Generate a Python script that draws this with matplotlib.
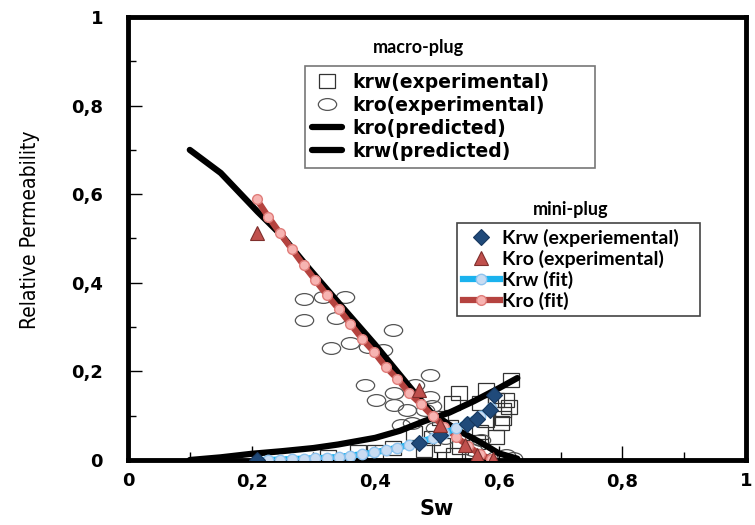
import numpy as np
import matplotlib.pyplot as plt
from matplotlib.markers import MarkerStyle
from matplotlib.transforms import Affine2D
from matplotlib.ticker import MultipleLocator, FuncFormatter

# macro-plug experimental points
krw_exp_sw = [0.324, 0.372, 0.399, 0.428, 0.463, 0.479, 0.492, 0.505, 0.508, 0.521,
              0.524, 0.527, 0.535, 0.537, 0.559, 0.564, 0.569, 0.569, 0.58, 0.58,
              0.596, 0.596, 0.607, 0.607, 0.612, 0.620, 0.617, 0.604]
krw_exp = [0.007, 0.018, 0.018, 0.027, 0.061, 0.023, 0.050, 0.095, 0.034, 0.075,
           0.129, 0.011, 0.151, 0.029, 0.007, 0.041, 0.129, 0.063, 0.158, 0.090,
           0.135, 0.052, 0.113, 0.095, 0.135, 0.181, 0.120, 0.083]
kro_exp_sw = [0.284, 0.316, 0.351, 0.284, 0.337, 0.429, 0.329, 0.359, 0.388, 0.412,
              0.489, 0.383, 0.401, 0.431, 0.431, 0.452, 0.465, 0.441, 0.492, 0.481,
              0.489, 0.460, 0.497, 0.513, 0.572, 0.559, 0.596, 0.612, 0.623]
kro_exp = [0.363, 0.368, 0.368, 0.316, 0.320, 0.293, 0.253, 0.264, 0.255, 0.248,
           0.192, 0.169, 0.135, 0.151, 0.124, 0.113, 0.169, 0.079, 0.122, 0.113,
           0.142, 0.083, 0.072, 0.050, 0.045, 0.023, 0.007, 0.011, 0.005]

# macro-plug predicted curves
kro_pred_sw = [0.10, 0.15, 0.21, 0.25, 0.29, 0.35, 0.40, 0.45, 0.49, 0.53, 0.57, 0.60, 0.63]
kro_pred = [0.70, 0.648, 0.56, 0.505, 0.437, 0.34, 0.26, 0.175, 0.108, 0.07, 0.04, 0.015, 0.003]
krw_pred_sw = [0.10, 0.15, 0.20, 0.25, 0.30, 0.34, 0.40, 0.44, 0.48, 0.52, 0.56, 0.60, 0.63]
krw_pred = [0.0, 0.006, 0.014, 0.020, 0.027, 0.035, 0.050, 0.066, 0.088, 0.107, 0.133, 0.162, 0.185]

# mini-plug experimental
krw_mini_sw = [0.208, 0.471, 0.505, 0.548, 0.564, 0.585, 0.593]
krw_mini = [0.0, 0.038, 0.056, 0.081, 0.093, 0.113, 0.147]
kro_mini_sw = [0.208, 0.471, 0.505, 0.545, 0.564, 0.590]
kro_mini = [0.512, 0.158, 0.079, 0.034, 0.011, 0.002]

# mini-plug fit
fit_sw = [0.208, 0.227, 0.246, 0.265, 0.284, 0.303, 0.322, 0.341, 0.360, 0.379, 0.398,
          0.417, 0.436, 0.455, 0.474, 0.493, 0.512, 0.531, 0.550, 0.569, 0.588]
kro_fit = [0.589, 0.549, 0.512, 0.476, 0.440, 0.406, 0.372, 0.341, 0.307, 0.273, 0.244,
           0.210, 0.183, 0.151, 0.126, 0.099, 0.075, 0.052, 0.032, 0.013, 0.002]
krw_fit = [0.0, 0.0, 0.001, 0.002, 0.003, 0.004, 0.005, 0.007, 0.010, 0.013, 0.017,
           0.022, 0.028, 0.034, 0.041, 0.050, 0.060, 0.072, 0.086, 0.100, 0.117]

fig = plt.figure(figsize=(7.55, 5.25), dpi=100)
ax = fig.add_axes([128 / 755, 65 / 525, 618 / 755, 443 / 525])

ell = MarkerStyle('o', transform=Affine2D().scale(1.55, 1.0))
sq = MarkerStyle('s', transform=Affine2D().scale(1.12, 1.0))

h_sq, = ax.plot(krw_exp_sw, krw_exp, ls='none', marker=sq, ms=10, mfc='none',
                mec='#333333', mew=0.9, label='krw(experimental)', zorder=2)
h_ci, = ax.plot(kro_exp_sw, kro_exp, ls='none', marker=ell, ms=8.5, mfc='none',
                mec='#555555', mew=0.9, label='kro(experimental)', zorder=2)
h_kp, = ax.plot(kro_pred_sw, kro_pred, color='black', lw=4.5,
                solid_capstyle='round', label='kro(predicted)', zorder=3)
h_wp, = ax.plot(krw_pred_sw, krw_pred, color='black', lw=4.5,
                solid_capstyle='round', label='krw(predicted)', zorder=3)

h_rf, = ax.plot(fit_sw, kro_fit, color='#B5433F', lw=4.5, marker='o', ms=7,
                mfc='#F7B4B2', mec='#E07D7A', mew=1, label='Kro (fit)', zorder=4)
h_bf, = ax.plot(fit_sw, krw_fit, color='#1AB2EE', lw=4.5, marker='o', ms=7.5,
                mfc='#C9DCF2', mec='#8FC3EE', mew=1, label='Krw (fit)', zorder=4)
h_di, = ax.plot(krw_mini_sw, krw_mini, ls='none', marker='D', ms=8.5,
                mfc='#204A7A', mec='#17375E', mew=0.8,
                label='Krw (experiemental)', zorder=5)
h_tr, = ax.plot(kro_mini_sw, kro_mini, ls='none', marker='^', ms=9.5,
                mfc='#C0504D', mec='#7F2F2C', mew=0.8,
                label='Kro (experimental)', zorder=5)

ax.set_xlim(0, 1)
ax.set_ylim(0, 1)
ax.xaxis.set_major_locator(MultipleLocator(0.2))
ax.xaxis.set_minor_locator(MultipleLocator(0.1))
ax.yaxis.set_major_locator(MultipleLocator(0.2))
ax.yaxis.set_minor_locator(MultipleLocator(0.1))
fmt = FuncFormatter(lambda v, p: '0' if abs(v) < 1e-9 else ('1' if abs(v - 1) < 1e-9
                    else f'{v:.1f}'.replace('.', ',')))
ax.xaxis.set_major_formatter(fmt)
ax.yaxis.set_major_formatter(fmt)
ax.tick_params(which='both', direction='in', width=1, top=False, right=False)
ax.tick_params(which='major', length=10)
ax.tick_params(which='minor', length=6)
ax.tick_params(axis='y', which='major', pad=18)
ax.tick_params(axis='x', which='major', pad=9)
for lab in ax.get_xticklabels() + ax.get_yticklabels():
    lab.set_fontweight('bold')
    lab.set_fontsize(13)
    lab.set_family('DejaVu Sans')
for s in ax.spines.values():
    s.set_linewidth(3.5)

ax.set_xlabel('Sw', fontsize=15, fontweight='bold', labelpad=6)
fig.text(30 / 755, 1 - 230 / 525, 'Relative Permeability', rotation=90,
         ha='center', va='center', fontsize=15,
         family=['Liberation Sans Narrow', 'DejaVu Sans'], fontstretch='condensed')

# macro-plug legend
leg1 = ax.legend(handles=[h_sq, h_ci, h_kp, h_wp], loc='upper left', mode='expand',
                 bbox_to_anchor=(305 / 755, 1 - 168 / 525, 290 / 755, 102 / 525),
                 bbox_transform=fig.transFigure,
                 frameon=True, fancybox=False, edgecolor='#777777', framealpha=1,
                 prop={'family': 'DejaVu Sans', 'weight': 'bold', 'size': 13.5},
                 handlelength=1.6, handletextpad=0.6, borderpad=0.35,
                 labelspacing=0.22, borderaxespad=0)
leg1.get_frame().set_linewidth(1.2)
ax.add_artist(leg1)
fig.text(418 / 755, 1 - 47 / 525, 'macro-plug', ha='center', va='center',
         fontsize=13, fontweight='bold', family='Lato')

# mini-plug legend
leg2 = ax.legend(handles=[h_di, h_tr, h_bf, h_rf], loc='upper left', mode='expand',
                 bbox_to_anchor=(457 / 755, 1 - 312 / 525, 243 / 755, 89 / 525),
                 bbox_transform=fig.transFigure,
                 frameon=True, fancybox=False, edgecolor='#444444', framealpha=1,
                 prop={'family': 'Lato', 'weight': 'bold', 'size': 14},
                 handlelength=1.9, handletextpad=0.1, borderpad=0.3,
                 labelspacing=0.15, borderaxespad=0, numpoints=1)
leg2.get_frame().set_linewidth(1.2)
fig.text(571 / 755, 1 - 209 / 525, 'mini-plug', ha='center', va='center',
         fontsize=13, fontweight='bold', family='Lato')

fig.savefig('out.png', dpi=100)
